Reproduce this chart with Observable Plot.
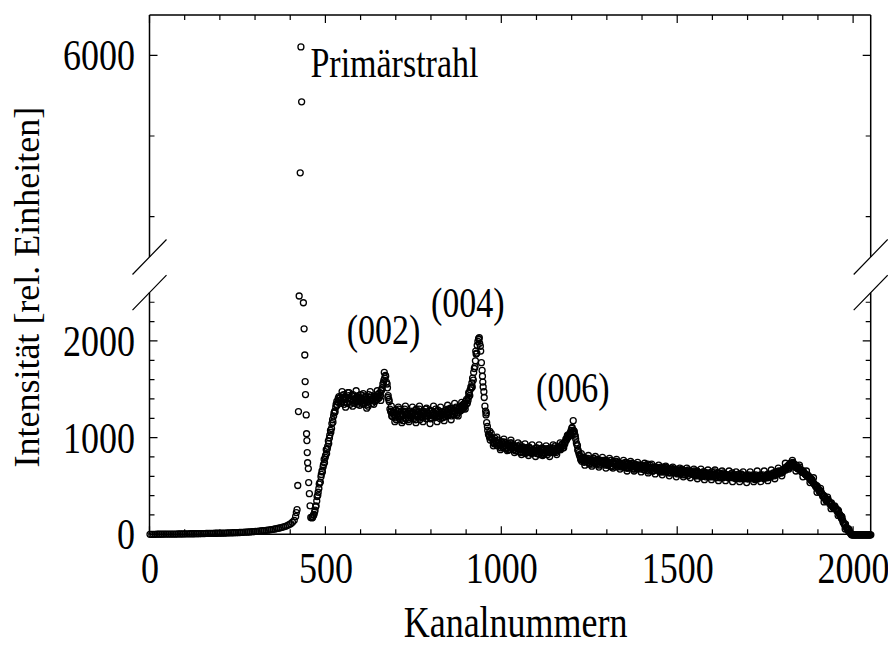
<!DOCTYPE html>
<html>
<head>
<meta charset="utf-8">
<script src="https://cdn.jsdelivr.net/npm/d3@7"></script>
<script src="https://cdn.jsdelivr.net/npm/@observablehq/plot@0.6"></script>
<style>
  html, body { margin: 0; padding: 0; background: #fff; }
  #chart svg { display: block; }
</style>
</head>
<body>
<div id="chart"></div>
<script>
// ---- data ----
// low-angle background, two interleaved runs of channels
const lowStart = 0, lowStep = 10;
const lowValues = [5,5,6,6,7,7,8,8,9,9,10,10,11,12,12,13,14,15,15,16,17,18,19,20,22,23,25,27,29,32,35,38,42,46,51,57,64,72,82,95,115,150];
const low2Start = 5, low2Step = 10;
const low2Values = [5,5,6,6,7,7,8,8,9,9,10,11,11,12,13,13,14,15,16,17,17,18,20,21,22,24,26,28,30,33,36,40,44,48,54,60,68,77,88,105,130];
// primary beam, individual channels
const beamChannels = [414,416,418,420,422,424,427,429,431,436,438,440,441,442,444,445,446,447,448,450,451,453,455,457];
const beamValues   = [190,230,260,510,1275,2470,4550,6110,5430,2400,2130,1860,1585,1450,1240,1045,975,850,745,685,540,425,300,180];
// rise after the beam
const riseStart = 460, riseStep = 3;
const riseValues = [175,190,210,255,300,395,440,525,545,625,650,725,745,820,840,915,945,1030,1060,1150,1165,1260,1270,1350,1340,1410,1390];
const rise2Start = 462, rise2Step = 3;
const rise2Values = [180,205,235,290,350,410,480,540,600,660,700,780,800,880,890,970,1000,1080,1100,1190,1230,1280,1320,1380,1370,1430];
// main spectrum, interleaved runs
const mainStart = 540, mainStep = 5;
const mainValues = [
  1420,1380,1450,1400,1360,1440,1410,1370,1430,1390,
  1350,1420,1380,1440,1370,1400,1330,1420,1390,1410,
  1430,1400,1460,1440,1520,1600,1640,1520,1380,1270,
  1220,1260,1190,1280,1230,1250,1180,1270,1240,1210,
  1280,1230,1260,1190,1250,1300,1220,1240,1270,1200,
  1250,1290,1210,1260,1230,1280,1240,1200,1270,1250,
  1290,1230,1260,1300,1250,1280,1320,1260,1310,1290,
  1350,1330,1400,1420,1500,1570,1680,1800,1960,2020,
  1900,1640,1420,1240,1080,1010,1050,960,1000,940,
  980,930,960,910,950,900,940,880,930,900,
  870,920,890,850,910,870,900,860,890,840,
  880,860,900,840,880,850,890,860,830,880,
  850,900,860,880,910,890,930,920,960,1000,
  1020,1060,1110,1060,990,920,830,790,770,800,
  760,790,740,780,750,770,730,770,750,740,
  760,720,750,730,770,710,740,760,720,730,
  700,740,710,730,690,720,740,700,710,680,
  720,690,710,670,700,730,680,700,660,690,
  700,670,690,650,680,700,660,680,640,670,
  660,680,640,670,650,620,660,640,670,630,
  650,620,640,660,610,640,620,650,600,630,
  640,600,620,650,610,630,590,620,640,600,
  620,590,610,640,600,580,620,600,630,590,
  600,620,580,610,590,600,570,610,590,620,
  600,580,610,590,620,600,630,610,640,630,
  650,640,670,680,700,720,740,720,730,700,
  700,680,670,650,640,620,600,590,560,540,
  520,490,470,440,420,390,370,360,340,320,
  290,280,270,240,210,170,130,100,70,40,
  20,5,0,0,0,0,0,0,0,0,
  0,0
];
const main2Start = 542, main2Step = 5;
const main2Values = [
  1390,1440,1350,1420,1470,1380,1400,1450,1360,1420,
  1440,1370,1410,1350,1430,1380,1450,1400,1360,1430,
  1390,1450,1420,1490,1560,1620,1580,1440,1300,1230,
  1270,1210,1250,1300,1190,1240,1280,1200,1260,1230,
  1210,1270,1240,1300,1220,1190,1260,1280,1230,1260,
  1230,1200,1280,1240,1300,1220,1270,1250,1210,1280,
  1250,1300,1270,1230,1290,1260,1240,1300,1280,1320,
  1310,1380,1360,1460,1530,1620,1720,1870,2000,1980,
  1780,1530,1330,1160,1040,980,1000,950,970,920,
  950,900,940,960,890,930,910,950,880,920,
  900,860,930,880,900,840,880,910,850,880,
  850,900,870,830,890,870,840,880,860,900,
  880,860,920,870,900,880,940,950,990,1030,
  1040,1080,1070,1040,950,870,810,760,790,760,
  780,750,770,730,790,740,760,720,770,750,
  740,770,720,750,700,760,730,710,750,720,
  720,700,750,690,720,700,730,680,720,700,
  700,720,680,710,690,660,720,690,670,700,
  680,660,700,670,650,690,670,650,690,660,
  640,670,650,630,680,650,620,660,640,650,
  630,660,610,650,630,600,650,620,640,610,
  620,650,600,630,610,640,600,630,610,620,
  600,620,630,590,620,600,610,580,620,600,
  590,600,620,590,610,580,620,600,590,610,
  620,590,600,630,600,610,640,620,650,660,
  640,660,680,670,710,700,730,750,710,720,
  680,700,650,660,630,610,610,570,570,530,
  500,500,450,450,400,400,350,370,320,330,
  280,290,250,250,200,180,120,110,60,50,
  10,0,0,0,0,0,0,0,0,0,
  0,0
];
const main3Start = 544, main3Step = 5;
const main3Values = [
  1360,1410,1430,1370,1420,1350,1440,1390,1410,1380,
  1410,1450,1360,1400,1420,1350,1400,1440,1410,1380,
  1420,1410,1470,1500,1580,1650,1560,1400,1280,1260,
  1240,1290,1220,1200,1270,1230,1300,1250,1190,1260,
  1250,1200,1290,1230,1270,1240,1210,1260,1300,1230,
  1280,1240,1260,1210,1250,1290,1230,1270,1240,1220,
  1270,1240,1310,1280,1240,1310,1290,1280,1330,1300,
  1360,1350,1390,1440,1520,1600,1740,1880,2030,1950,
  1700,1480,1280,1120,1030,1010,990,940,960,950,
  920,960,900,920,940,880,950,900,920,870,
  910,880,860,900,870,890,850,900,870,860,
  870,840,880,860,900,830,870,890,850,860,
  870,890,850,900,880,910,900,940,980,1010,
  1040,1100,1080,1020,930,850,780,800,750,780,
  770,730,760,790,740,760,780,730,750,770,
  730,760,740,710,750,730,760,700,740,710,
  730,710,690,740,700,710,680,730,690,720,
  680,710,700,720,670,700,690,660,700,680,
  690,650,680,700,660,670,640,680,660,680,
  650,630,660,640,670,640,650,610,650,630,
  640,610,650,620,640,630,610,640,620,600,
  610,630,620,590,640,600,620,590,630,610,
  590,610,600,620,590,600,630,590,610,580,
  610,580,600,600,620,590,600,580,610,600,
  590,610,620,600,610,630,620,650,640,650,
  660,650,690,700,690,730,720,740,700,690,
  690,670,660,640,620,620,590,580,550,520,
  510,480,460,430,410,380,360,350,330,300,
  280,270,260,220,190,150,110,80,50,30,
  0,0,0,0,0,0,0,0,0,0,
  0,0
];
// band edges (points scattered furthest from the mean), step 10
const main4Start = 546, main4Step = 10;
const main4Values = [
  1480,1320,1470,1330,1490,1340,1460,1310,1480,1350,
  1490,1390,1680,1420,1330,1170,1320,1160,1330,1170,
  1320,1160,1330,1170,1310,1150,1330,1170,1320,1180,
  1340,1190,1360,1230,1370,1300,1470,1530,1900,2040,
  1580,1260,1070,920,1010,880,990,870,980,850,
  950,830,940,820,930,810,930,820,920,810,
  930,830,950,900,1020,1030,1070,880,840,720,
  820,710,810,700,800,690,790,690,780,680,
  770,660,760,660,750,650,740,640,730,630,
  720,620,710,610,700,600,690,600,690,590,
  680,580,680,570,670,570,670,560,660,560,
  660,550,650,550,650,540,650,550,660,550,
  660,560,670,580,690,610,740,680,770,660,
  720,600,660,540,590,440,480,340,390,270,
  300,200,190,60,60,0,0,0,0,0,
  0
];
// isolated outlier on the (006) peak
const extraChannels = [1203];
const extraValues = [1180];

// axes
const xDomain = [0, 2050];
const yDomain = [0, 2500, 3500, 6500];  // broken axis: lower 0–2500, upper 3500–6500
const xMajor = [0, 500, 1000, 1500, 2000];
const xMinor = [100,200,300,400,600,700,800,900,1100,1200,1300,1400,1600,1700,1800,1900];
const yMajorLow = [0, 1000, 2000];
const yMinorLow = [200,400,600,800,1200,1400,1600,1800,2200,2400];
const yMajorUp = [6000];
const yMinorUp = [4000, 5000];
const yLabels = [0, 1000, 2000, 6000];
const xLabels = [0, 500, 1000, 1500, 2000];

const beamLabel = [{label: "Primärstrahl", ch: 456, v: 5905}];
const peakLabels = [
  {label: "(002)", ch: 664, v: 2113},
  {label: "(004)", ch: 903, v: 2394},
  {label: "(006)", ch: 1202, v: 1513}
];
const xTitle = "Kanalnummern";
const yTitle = "Intensität [rel. Einheiten]";

// ---- build table ----
const pts = [];
function addRun(start, step, values) { values.forEach((v, i) => pts.push({x: start + i * step, y: v})); }
addRun(lowStart, lowStep, lowValues);
addRun(low2Start, low2Step, low2Values);
beamValues.forEach((v, i) => pts.push({x: beamChannels[i], y: v}));
addRun(riseStart, riseStep, riseValues);
addRun(rise2Start, rise2Step, rise2Values);
addRun(mainStart, mainStep, mainValues);
addRun(main2Start, main2Step, main2Values);
addRun(main3Start, main3Step, main3Values);
addRun(main4Start, main4Step, main4Values);
extraValues.forEach((v, i) => pts.push({x: extraChannels[i], y: v}));

const W = 888, H = 645;
const FONT = "Liberation Serif, Times New Roman, serif";

// frame, broken axis and ticks, drawn from the scales
function frameMark(index, scales) {
  const x = scales.x, y = scales.y;
  const xl = x(xDomain[0]), xr = x(xDomain[1]);
  const yb = y(yDomain[0]), yLowTop = y(yDomain[1]), yUpBot = y(yDomain[2]), yt = y(yDomain[3]);
  const g = d3.create("svg:g").attr("fill", "none").attr("stroke", "black");
  const path = [];
  path.push(`M${xl},${yb}H${xr}`);
  path.push(`M${xl},${yt}H${xr}`);
  path.push(`M${xl},${yb}V${yLowTop}`);
  path.push(`M${xl},${yUpBot}V${yt}`);
  path.push(`M${xr},${yb}V${yLowTop}`);
  path.push(`M${xr},${yUpBot}V${yt}`);
  g.append("path").attr("d", path.join("")).attr("stroke-width", 1.5);
  const t = [];
  const maj = 8, min = 5;
  xMajor.forEach(v => { t.push(`M${x(v)},${yb}v${-maj}`); t.push(`M${x(v)},${yt}v${maj}`); });
  xMinor.forEach(v => { t.push(`M${x(v)},${yb}v${-min}`); t.push(`M${x(v)},${yt}v${min}`); });
  yMajorLow.concat(yMajorUp).forEach(v => { t.push(`M${xl},${y(v)}h${maj}`); t.push(`M${xr},${y(v)}h${-maj}`); });
  yMinorLow.concat(yMinorUp).forEach(v => { t.push(`M${xl},${y(v)}h${min}`); t.push(`M${xr},${y(v)}h${-min}`); });
  g.append("path").attr("d", t.join("")).attr("stroke-width", 1.2);
  const s = [];
  const dx = 17, dy = 17.5;
  [xl, xr].forEach(xx => {
    [yLowTop, yUpBot].forEach(yy => { s.push(`M${xx - dx},${yy + dy}L${xx + dx},${yy - dy}`); });
  });
  g.append("path").attr("d", s.join("")).attr("stroke-width", 1.2);
  return g.node();
}

const chart = Plot.plot({
  width: W,
  height: H,
  marginLeft: 149.5,
  marginRight: 17.3,
  marginTop: 15,
  marginBottom: 110.7,
  style: {fontFamily: FONT, background: "white", color: "black", overflow: "visible"},
  x: {domain: xDomain, axis: null},
  y: {type: "linear", domain: yDomain, range: [534.3, 292.6, 257, 15], axis: null},
  marks: [
    Plot.dot(pts, {x: "x", y: "y", r: 3, stroke: "black", strokeWidth: 1.3, fill: "none"}),
    frameMark,
    Plot.text(xLabels, {x: d => d, frameAnchor: "bottom", dy: 45, text: d => String(d), fontSize: 36, fill: "black"}),
    Plot.text(yLabels, {y: d => d, frameAnchor: "left", dx: -15, textAnchor: "end", text: d => String(d), fontSize: 36, fill: "black"}),
    Plot.text(beamLabel, {x: "ch", y: "v", text: "label", textAnchor: "start", fontSize: 34, fill: "black"}),
    Plot.text(peakLabels, {x: "ch", y: "v", text: "label", textAnchor: "middle", fontSize: 34, fill: "black"}),
    Plot.text([xTitle], {frameAnchor: "bottom", dy: 99, dx: 5, text: d => d, textAnchor: "middle", fontSize: 36, fill: "black"}),
    Plot.text([yTitle], {frameAnchor: "left", dx: -123, dy: 12, rotate: -90, textAnchor: "middle", text: d => d, fontSize: 36, fill: "black"})
  ]
});
document.getElementById("chart").appendChild(chart);

// the reference's lettering is taller than it is wide: stretch horizontal texts vertically
chart.querySelectorAll("text").forEach(el => {
  const tr = el.getAttribute("transform") || "";
  if (tr.includes("rotate")) return;
  const b = el.getBBox();
  const cx = b.x + b.width / 2, cy = b.y + b.height / 2;
  el.setAttribute("transform", `${tr} translate(${cx},${cy}) scale(1,1.25) translate(${-cx},${-cy})`.trim());
});
</script>
</body>
</html>
